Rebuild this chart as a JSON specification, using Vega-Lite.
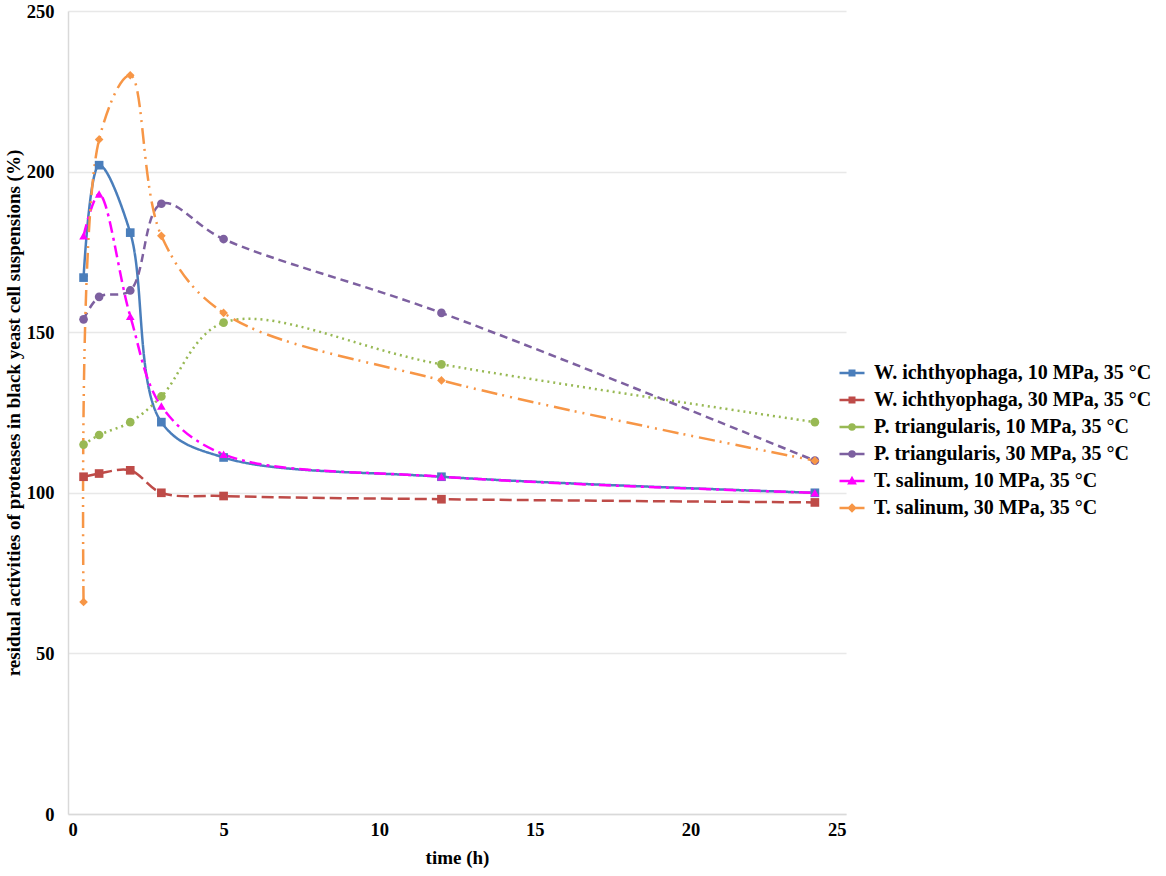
{
  "$schema": "https://vega.github.io/schema/vega-lite/v6.json",
  "width": 778,
  "height": 803,
  "autosize": {"type": "none"},
  "padding": {"left": 68, "top": 11, "right": 320, "bottom": 62},
  "background": "white",
  "data": {
    "values": [
      {"t": 0.5, "v": 167, "s": "W. ichthyophaga, 10 MPa, 35 °C"},
      {"t": 1, "v": 202, "s": "W. ichthyophaga, 10 MPa, 35 °C"},
      {"t": 2, "v": 181, "s": "W. ichthyophaga, 10 MPa, 35 °C"},
      {"t": 3, "v": 122, "s": "W. ichthyophaga, 10 MPa, 35 °C"},
      {"t": 5, "v": 111, "s": "W. ichthyophaga, 10 MPa, 35 °C"},
      {"t": 12, "v": 105, "s": "W. ichthyophaga, 10 MPa, 35 °C"},
      {"t": 24, "v": 100, "s": "W. ichthyophaga, 10 MPa, 35 °C"},
      {"t": 0.5, "v": 105, "s": "W. ichthyophaga,  30 MPa, 35 °C"},
      {"t": 1, "v": 106, "s": "W. ichthyophaga,  30 MPa, 35 °C"},
      {"t": 2, "v": 107, "s": "W. ichthyophaga,  30 MPa, 35 °C"},
      {"t": 3, "v": 100, "s": "W. ichthyophaga,  30 MPa, 35 °C"},
      {"t": 5, "v": 99, "s": "W. ichthyophaga,  30 MPa, 35 °C"},
      {"t": 12, "v": 98, "s": "W. ichthyophaga,  30 MPa, 35 °C"},
      {"t": 24, "v": 97, "s": "W. ichthyophaga,  30 MPa, 35 °C"},
      {"t": 0.5, "v": 115, "s": "P. triangularis, 10 MPa, 35 °C"},
      {"t": 1, "v": 118, "s": "P. triangularis, 10 MPa, 35 °C"},
      {"t": 2, "v": 122, "s": "P. triangularis, 10 MPa, 35 °C"},
      {"t": 3, "v": 130, "s": "P. triangularis, 10 MPa, 35 °C"},
      {"t": 5, "v": 153, "s": "P. triangularis, 10 MPa, 35 °C"},
      {"t": 12, "v": 140, "s": "P. triangularis, 10 MPa, 35 °C"},
      {"t": 24, "v": 122, "s": "P. triangularis, 10 MPa, 35 °C"},
      {"t": 0.5, "v": 154, "s": "P. triangularis,  30 MPa, 35 °C"},
      {"t": 1, "v": 161, "s": "P. triangularis,  30 MPa, 35 °C"},
      {"t": 2, "v": 163, "s": "P. triangularis,  30 MPa, 35 °C"},
      {"t": 3, "v": 190, "s": "P. triangularis,  30 MPa, 35 °C"},
      {"t": 5, "v": 179, "s": "P. triangularis,  30 MPa, 35 °C"},
      {"t": 12, "v": 156, "s": "P. triangularis,  30 MPa, 35 °C"},
      {"t": 24, "v": 110, "s": "P. triangularis,  30 MPa, 35 °C"},
      {"t": 0.5, "v": 180, "s": "T. salinum, 10 MPa, 35 °C"},
      {"t": 1, "v": 193, "s": "T. salinum, 10 MPa, 35 °C"},
      {"t": 2, "v": 155, "s": "T. salinum, 10 MPa, 35 °C"},
      {"t": 3, "v": 127, "s": "T. salinum, 10 MPa, 35 °C"},
      {"t": 5, "v": 112, "s": "T. salinum, 10 MPa, 35 °C"},
      {"t": 12, "v": 105, "s": "T. salinum, 10 MPa, 35 °C"},
      {"t": 24, "v": 100, "s": "T. salinum, 10 MPa, 35 °C"},
      {"t": 0.5, "v": 66, "s": "T. salinum,  30 MPa, 35 °C"},
      {"t": 1, "v": 210, "s": "T. salinum,  30 MPa, 35 °C"},
      {"t": 2, "v": 230, "s": "T. salinum,  30 MPa, 35 °C"},
      {"t": 3, "v": 180, "s": "T. salinum,  30 MPa, 35 °C"},
      {"t": 5, "v": 156, "s": "T. salinum,  30 MPa, 35 °C"},
      {"t": 12, "v": 135, "s": "T. salinum,  30 MPa, 35 °C"},
      {"t": 24, "v": 110, "s": "T. salinum,  30 MPa, 35 °C"}
    ]
  },
  "encoding": {
    "x": {
      "field": "t",
      "type": "quantitative",
      "title": "time (h)",
      "scale": {"domain": [0, 25], "nice": false},
      "axis": {"values": [0, 5, 10, 15, 20, 25], "grid": false, "ticks": false, "labelPadding": 6, "titlePadding": 10}
    },
    "y": {
      "field": "v",
      "type": "quantitative",
      "title": "residual activities of proteases in black yeast cell suspensions (%)",
      "scale": {"domain": [0, 250], "nice": false},
      "axis": {"values": [0, 50, 100, 150, 200, 250], "ticks": false, "labelPadding": 14, "titlePadding": 3}
    },
    "color": {
      "field": "s",
      "type": "nominal",
      "sort": null,
      "title": null,
      "scale": {"range": ["#4A7EBB", "#BE4B48", "#98B954", "#7D60A0", "#FF00FF", "#F79646"]},
      "legend": {
        "symbolSize": 625,
        "symbolStrokeWidth": 2.5,
        "encode": {
          "symbols": {
            "update": {
              "shape": {"signal": "['M-1,0H1M-0.18,-0.18H0.18V0.18H-0.18Z','M-1,0H1M-0.18,-0.18H0.18V0.18H-0.18Z','M-1,0H1M0.2,0A0.2,0.2,0,1,1,-0.2,0A0.2,0.2,0,1,1,0.2,0Z','M-1,0H1M0.2,0A0.2,0.2,0,1,1,-0.2,0A0.2,0.2,0,1,1,0.2,0Z','M-1,0H1M0,-0.22L0.22,0.17L-0.22,0.17Z','M-1,0H1M0,-0.24L0.24,0L0,0.24L-0.24,0Z'][indexof(domain('color'), datum.value)]"},
              "fill": {"scale": "color", "field": "value"},
              "stroke": {"scale": "color", "field": "value"},
              "fillOpacity": {"value": 1},
              "strokeOpacity": {"value": 1}
            }
          }
        }
      }
    }
  },
  "layer": [
    {
      "mark": {"type": "line", "interpolate": "catmull-rom", "strokeWidth": 2.5},
      "encoding": {
        "strokeDash": {
          "field": "s",
          "type": "nominal",
          "sort": null,
          "legend": null,
          "scale": {"range": [[1, 0], [12, 5], [2, 4], [8, 5], [12, 5, 3, 5], [16, 5, 2, 6, 2, 6]]}
        }
      }
    },
    {
      "mark": {"type": "point", "filled": true, "size": 75, "opacity": 1},
      "encoding": {
        "shape": {
          "field": "s",
          "type": "nominal",
          "sort": null,
          "legend": null,
          "scale": {"range": ["square", "square", "circle", "circle", "triangle-up", "diamond"]}
        }
      }
    }
  ],
  "config": {
    "font": "Liberation Serif",
    "view": {"stroke": null},
    "axis": {
      "labelFont": "Liberation Serif",
      "labelFontSize": 18.5,
      "labelFontWeight": "bold",
      "labelColor": "#000000",
      "titleFont": "Liberation Serif",
      "titleFontSize": 19,
      "titleFontWeight": "bold",
      "titleColor": "#000000",
      "domainColor": "#D9D9D9",
      "domainWidth": 1.5,
      "gridColor": "#E8E8E8",
      "gridWidth": 1.5
    },
    "legend": {
      "orient": "none",
      "legendX": 770,
      "legendY": 348,
      "labelFont": "Liberation Serif",
      "labelFontSize": 20,
      "labelFontWeight": "bold",
      "labelColor": "#000000",
      "labelLimit": 400,
      "rowPadding": 3,
      "labelOffset": 8
    }
  }
}
